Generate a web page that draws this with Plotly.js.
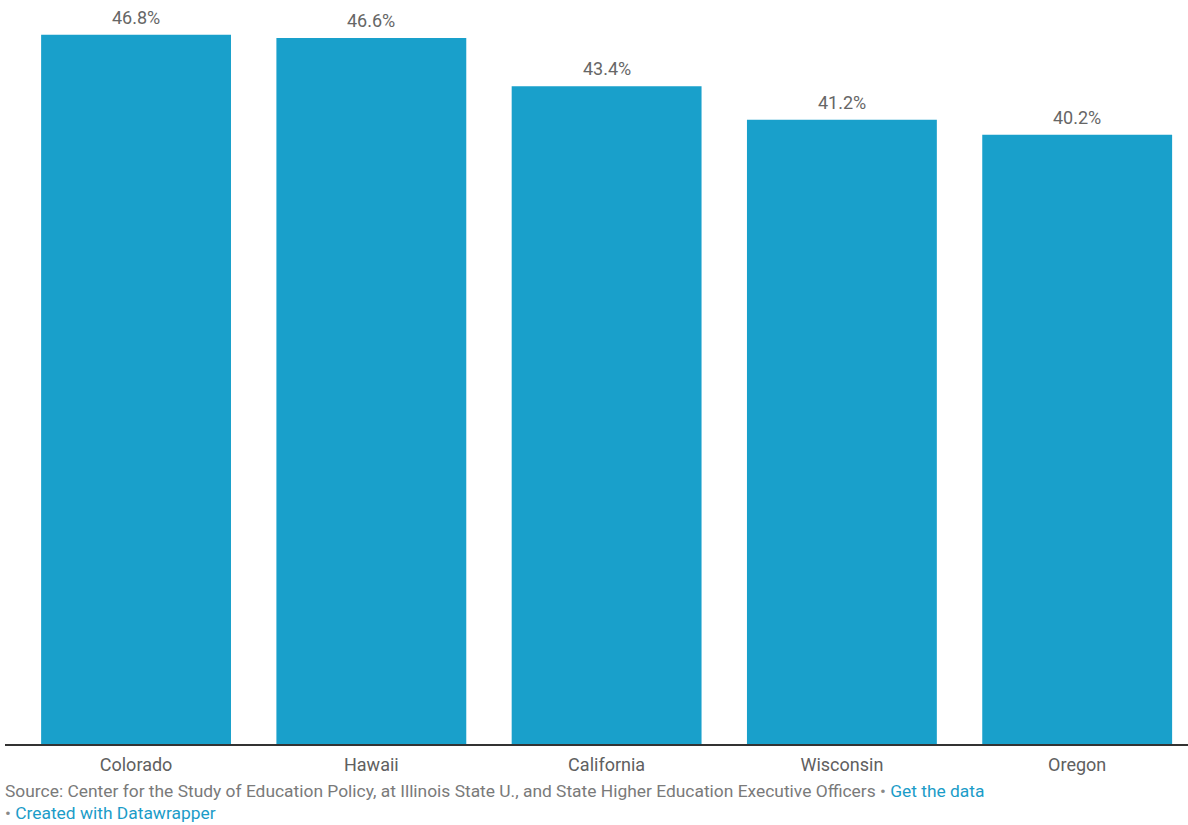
<!DOCTYPE html>
<html>
<head>
<meta charset="utf-8">
<script src="https://cdn.plot.ly/plotly-3.0.1.min.js"></script>
<style>
html,body{margin:0;padding:0;background:#fff;}
#chart{width:1188px;height:825px;}
</style>
</head>
<body>
<div id="chart"></div>
<script>
var states = ["Colorado", "Hawaii", "California", "Wisconsin", "Oregon"];
var shares = [46.8, 46.6, 43.4, 41.2, 40.2];
var valueLabels = ["46.8%", "46.6%", "43.4%", "41.2%", "40.2%"];
var sourceText = "Source: Center for the Study of Education Policy, at Illinois State U., and State Higher Education Executive Officers";
var linkText = "Get the data";
var creditText = "Created with Datawrapper";

var trace = {
  type: "bar",
  x: states,
  y: shares,
  marker: {color: "#19a0cb"},
  hoverinfo: "x+y"
};

var annotations = states.map(function (s, i) {
  return {
    x: s, y: shares[i], xref: "x", yref: "y",
    text: valueLabels[i], showarrow: false,
    yanchor: "bottom", yshift: 5,
    font: {family: "Roboto, sans-serif", size: 18, color: "#666666"}
  };
});
annotations.push({
  xref: "paper", yref: "paper", x: 0, y: -0.063, xanchor: "left", yanchor: "middle",
  xshift: -2,
  text: sourceText + ' <span style="color:#888">•</span> <span style="color:#1b9cc8">' + linkText + '</span>',
  showarrow: false, align: "left",
  font: {family: "Roboto, sans-serif", size: 17.4, color: "#7a7a7a"}
});
annotations.push({
  xref: "paper", yref: "paper", x: 0, y: -0.093, xanchor: "left", yanchor: "middle",
  xshift: -2,
  text: '<span style="color:#888">•</span> <span style="color:#1b9cc8">' + creditText + '</span>',
  showarrow: false, align: "left",
  font: {family: "Roboto, sans-serif", size: 17.4, color: "#7a7a7a"}
});

var layout = {
  width: 1188, height: 825,
  margin: {l: 5, r: 0, t: 0, b: 81, pad: 0},
  paper_bgcolor: "#ffffff", plot_bgcolor: "#ffffff",
  bargap: 0.193,
  showlegend: false,
  xaxis: {
    type: "category",
    range: [-0.557, 4.471],
    showline: true, linecolor: "#333333", linewidth: 2,
    ticks: "outside", ticklen: 3, tickcolor: "rgba(0,0,0,0)",
    tickfont: {family: "Roboto, sans-serif", size: 18, color: "#606060"},
    showgrid: false, zeroline: false, fixedrange: true
  },
  yaxis: {
    range: [0, 49.1],
    visible: false, showgrid: false, zeroline: false, fixedrange: true
  },
  annotations: annotations
};

Plotly.newPlot("chart", [trace], layout, {displayModeBar: false, staticPlot: true});
</script>
</body>
</html>
